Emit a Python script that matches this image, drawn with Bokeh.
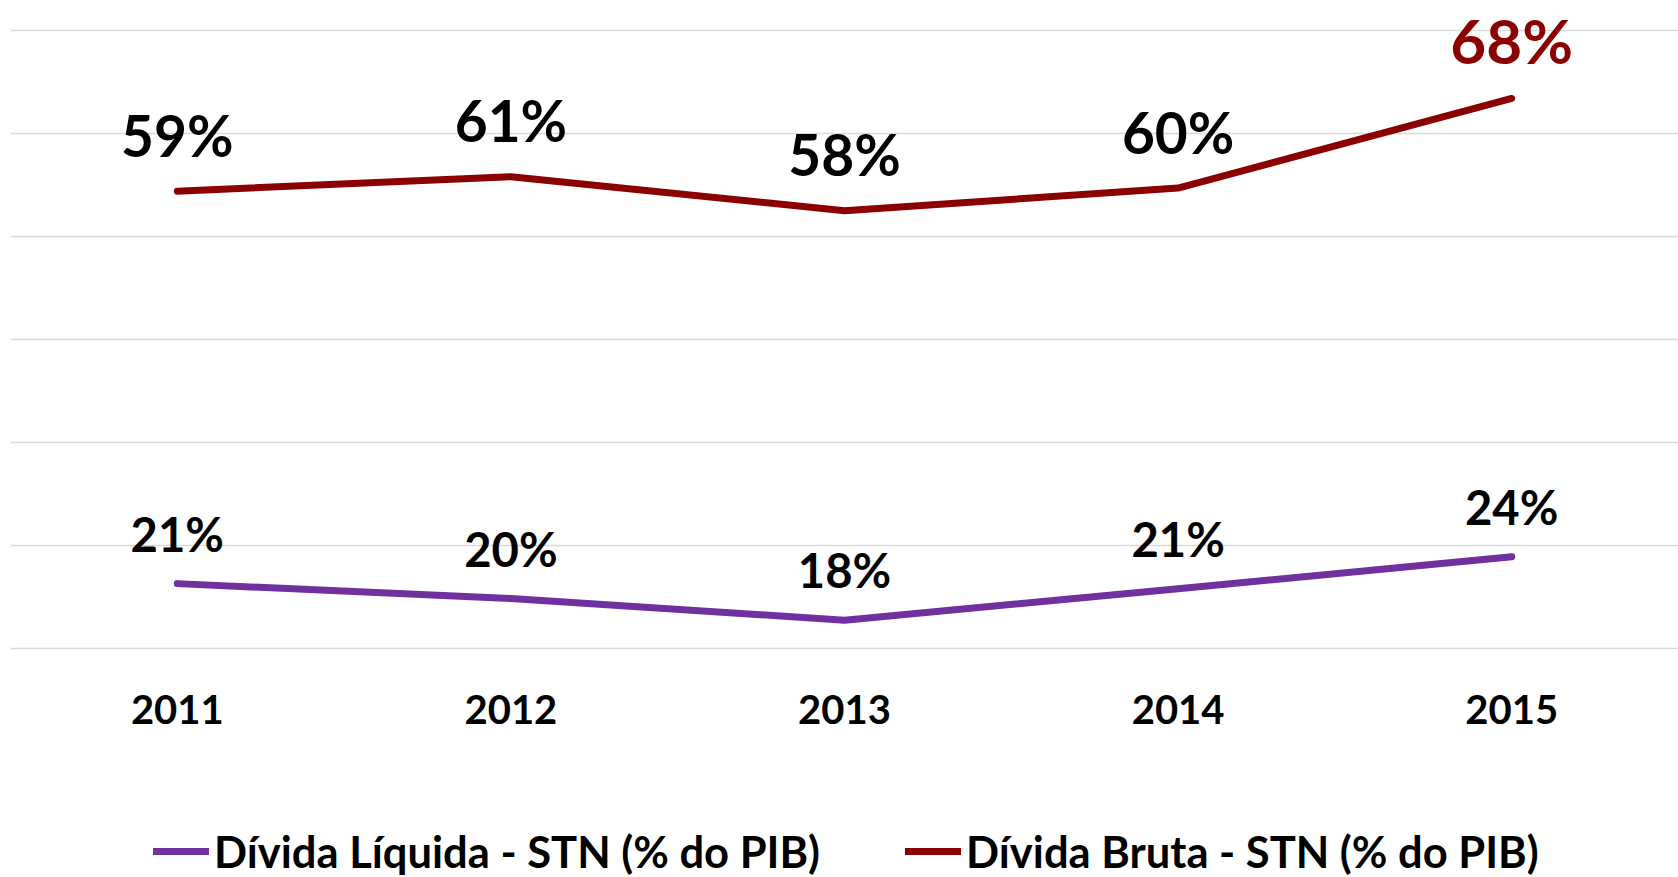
from bokeh.plotting import figure
from bokeh.models import Range1d, FixedTicker, Legend, LegendItem, ColumnDataSource
from bokeh.core.properties import value
from bokeh.embed import file_html
from bokeh.resources import INLINE

# ---- data ----
years = ["2011", "2012", "2013", "2014", "2015"]
divida_liquida = [21.3, 19.85, 17.75, 20.8, 23.9]
divida_bruta = [59.4, 60.8, 57.5, 59.7, 68.4]
liquida_labels = ["21%", "20%", "18%", "21%", "24%"]
bruta_labels = ["59%", "61%", "58%", "60%", "68%"]
series_names = ["Dívida Líquida - STN (% do PIB)", "Dívida Bruta - STN (% do PIB)"]
grid_ticks = [15, 25, 35, 45, 55, 65, 75]

# ---- styles ----
FONT = "Lato"
PURPLE = "#7030A0"
DARKRED = "#8B0000"
GRID = "#D9D9D9"

idx = list(range(len(years)))

p = figure(width=1678, height=877, output_backend="svg", toolbar_location=None,
           x_range=Range1d(-0.5, 4.5), y_range=Range1d(-7.23, 77.91),
           min_border_left=10, min_border_right=0, min_border_top=0,
           min_border_bottom=0)
p.outline_line_color = None
p.background_fill_color = "white"
p.border_fill_color = "white"

p.yaxis.visible = False
p.ygrid.ticker = FixedTicker(ticks=grid_ticks)
p.ygrid.grid_line_color = GRID
p.ygrid.grid_line_width = 1.5
p.xgrid.visible = False

xa = p.xaxis[0]
xa.fixed_location = grid_ticks[0]
xa.ticker = FixedTicker(ticks=idx)
xa.major_label_overrides = {i: y for i, y in enumerate(years)}
xa.axis_line_color = None
xa.major_tick_line_color = None
xa.minor_tick_line_color = None
xa.major_label_text_font = FONT
xa.major_label_text_font_style = "bold"
xa.major_label_text_font_size = "40px"
xa.major_label_text_color = "black"
xa.major_label_standoff = 40

LW = 7
r1 = p.line(idx, divida_liquida, line_color=PURPLE, line_width=LW,
            line_cap="round", line_join="round")
r2 = p.line(idx, divida_bruta, line_color=DARKRED, line_width=LW,
            line_cap="round", line_join="round")

# data labels (last Bruta label highlighted: larger and red)
last = len(years) - 1
B_FS, B_OFF = 56.8, 56.5
H_FS, H_OFF = 62.0, 58.5
L_FS, L_OFF = 47.2, 50.3
src_b = ColumnDataSource(dict(
    x=idx, y=divida_bruta, t=bruta_labels,
    c=[DARKRED if i == last else "black" for i in idx],
    fs=[f"{H_FS if i == last else B_FS}px" for i in idx],
    off=[-(H_OFF if i == last else B_OFF) for i in idx]))
p.text(x="x", y="y", text="t", source=src_b, text_color="c", text_font_size="fs",
       y_offset="off", text_align="center", text_baseline="middle",
       text_font=value(FONT), text_font_style="bold")

src_l = ColumnDataSource(dict(x=idx, y=divida_liquida, t=liquida_labels))
p.text(x="x", y="y", text="t", source=src_l, text_color="black",
       text_font_size=f"{L_FS}px", y_offset=-L_OFF,
       text_align="center", text_baseline="middle",
       text_font=value(FONT), text_font_style="bold")

legend = Legend(items=[LegendItem(label=series_names[0], renderers=[r1]),
                       LegendItem(label=series_names[1], renderers=[r2])],
                location=(143, 0), orientation="horizontal",
                glyph_width=56, label_standoff=5, spacing=85,
                padding=0, margin=0, border_line_color=None,
                background_fill_alpha=0,
                label_text_font=FONT, label_text_font_style="bold",
                label_text_font_size="43.5px", label_text_color="black")
p.add_layout(legend, "center")

open("out.html", "w").write(file_html(p, INLINE))
